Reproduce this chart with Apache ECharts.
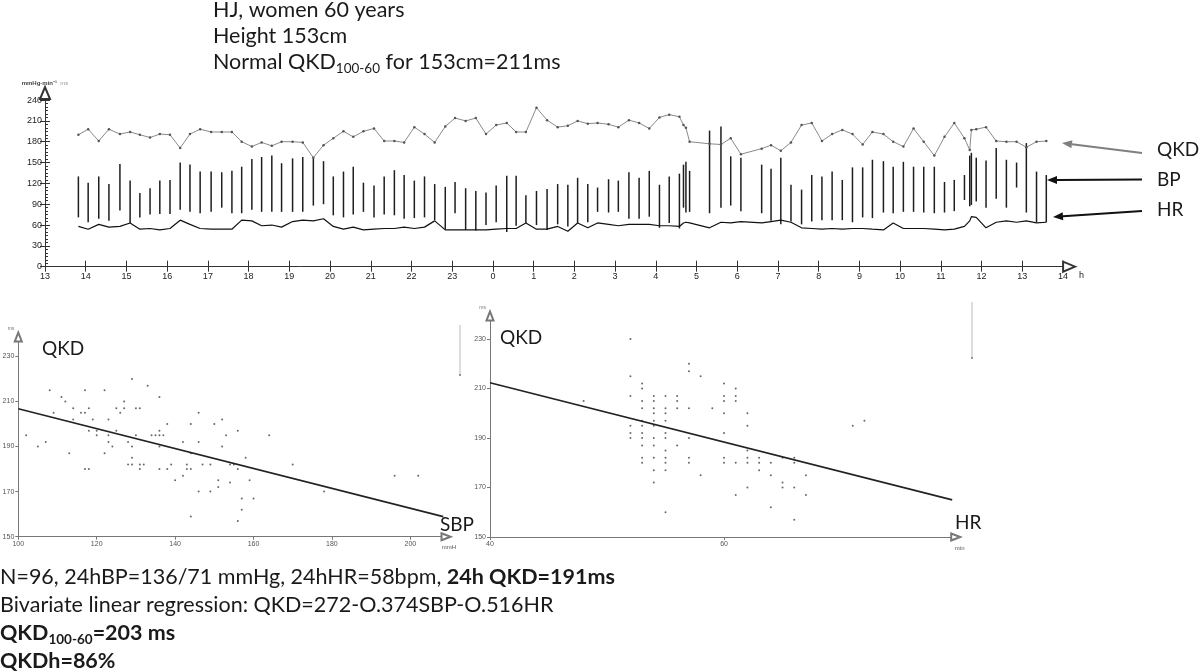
<!DOCTYPE html>
<html><head><meta charset="utf-8">
<script src="https://cdn.jsdelivr.net/npm/echarts@6/dist/echarts.min.js"></script>
<style>html,body{margin:0;padding:0;background:#fff}#c{width:1200px;height:672px}</style>
</head><body><div id="c"></div>
<script>
// ---------- Top panel: 24h recording ----------
const hourTicks = [13,14,15,16,17,18,19,20,21,22,23,24,25,26,27,28,29,30,31,32,33,34,35,36,37,38];
const hourLabels = ['13','14','15','16','17','18','19','20','21','22','23','0','1','2','3','4','5','6','7','8','9','10','11','12','13','14'];
const topYTicks = [0,30,60,90,120,150,180,210,240];

const bpTime = [13.82,14.06,14.32,14.57,14.84,15.09,15.33,15.58,15.82,16.07,16.32,16.56,16.81,17.08,17.34,17.59,17.83,18.08,18.32,18.57,18.81,19.08,19.33,19.59,19.84,20.08,20.33,20.57,20.82,21.08,21.33,21.58,21.82,
 22.07,22.32,22.57,22.83,23.07,23.33,23.58,23.83,24.08,24.34,24.57,24.81,25.07,25.33,25.59,25.84,26.08,26.33,26.57,26.84,27.08,27.34,27.59,27.84,28.09,28.33,28.58,28.68,28.74,28.83,29.32,29.60,29.84,30.09,
 30.60,30.83,31.07,31.32,31.58,31.83,32.08,32.33,32.58,32.83,33.08,33.32,33.59,33.83,34.08,34.33,34.58,34.84,35.09,35.33,35.58,35.71,35.75,35.87,36.11,36.36,36.61,36.86,37.10,37.35,37.59];
const bpSys = [130,121,130,119,148,124,106,113,124,125,150,147,137,137,136,138,144,155,158,160,149,156,158,156,152,130,137,144,121,117,130,139,132,
 124,130,119,115,122,113,109,107,117,131,131,103,109,112,119,118,128,119,114,126,124,136,128,138,118,130,134,147,151,138,196,202,159,157,
 147,141,157,118,111,132,130,137,125,143,143,154,152,144,151,144,144,144,122,125,132,160,164,157,153,171,154,150,178,137,132];
const bpDia = [71,64,69,66,81,63,71,75,76,76,82,79,77,79,85,77,77,82,79,79,79,79,79,88,90,74,71,75,79,71,75,74,69,
 70,71,67,54,77,53,52,60,64,50,59,63,60,53,61,58,63,64,79,78,79,69,69,72,56,63,55,85,78,79,77,85,88,80,
 77,66,61,65,61,65,67,67,67,64,71,70,78,77,79,79,78,77,78,80,96,87,89,94,85,98,85,114,78,64,64];
const hrVals = [58,54,61,57,58,63,54,55,53,55,67,61,55,54,54,54,67,66,59,60,57,65,67,66,69,58,54,57,53,54,55,55,57,
 55,57,66,53,53,53,53,53,54,55,55,63,54,54,58,51,63,56,63,61,59,61,61,61,59,59,58,63,64,63,56,64,63,65,
 63,65,67,64,56,55,54,55,54,55,55,54,53,63,55,55,55,54,53,54,58,66,72,71,56,64,66,64,66,63,64];
const qkdVals = [190,198,181,198,191,194,190,186,191,190,171,191,198,194,194,194,180,173,179,174,180,180,179,157,175,185,195,187,195,199,181,181,179,
 201,191,179,202,214,210,214,191,204,207,194,194,229,211,201,203,210,206,207,205,201,211,207,199,215,219,216,204,200,180,177,176,185,162,
 170,175,167,179,204,207,181,191,197,191,176,194,191,180,173,199,180,160,187,207,185,168,197,198,201,181,180,180,172,180,181];

// ---------- Bottom left: QKD vs SBP ----------
const sbpX = [102,105,107,108,109,111,112,113,114,114,116,117,117,117,118,118,118,119,120,120,122,122,123,123,123,124,125,125,126,127,
 127,128,128,129,129,129,129,130,130,131,131,131,132,133,134,135,136,136,136,136,136,137,138,138,139,140,142,142,143,143,
 144,144,144,144,146,146,146,147,149,149,150,151,151,152,152,153,154,154,155,156,156,156,157,157,158,159,160,164,170,178,196,202];
const qkdSbpY = [195,190,192,215,205,212,210,187,207,202,205,215,205,180,207,197,180,202,197,195,215,187,202,195,192,190,207,197,205,210,
 207,192,182,220,190,185,182,207,195,207,182,180,182,217,195,195,212,197,195,190,180,195,200,180,182,175,192,177,182,180,
 200,187,180,159,205,192,170,182,182,170,200,175,172,202,190,195,174,182,182,197,180,157,167,162,185,175,167,195,182,170,177,177];
const sbpTicks = [100,120,140,160,180,200];
const qkdTicks = [150,170,190,210,230];
const regSbpX = [100, 208.4];
const regSbpY = [206.8, 158.9];

// ---------- Bottom right: QKD vs HR ----------
const hrX = [48,52,52,52,52,52,52,53,53,53,53,53,53,53,53,53,53,53,54,54,54,54,54,54,54,54,54,54,54,55,55,55,55,55,55,55,55,55,55,55,
 56,56,56,56,57,57,57,57,57,57,58,58,59,60,60,60,60,60,60,60,61,61,61,61,61,62,62,62,62,62,62,63,63,63,64,64,64,65,65,65,66,66,66,66,67,67,71,72];
const qkdHrY = [205,230,215,207,195,192,190,212,210,205,202,197,195,192,190,187,182,180,207,205,202,200,197,195,190,187,182,177,172,
 207,202,200,197,192,190,185,182,180,177,160,207,205,202,187,220,217,202,190,182,180,215,175,202,212,207,205,200,192,182,180,
 210,207,205,180,167,200,195,185,182,180,170,182,180,177,180,175,162,182,172,170,182,180,170,157,175,167,195,197];
const hrTicks = [40,60];
const regHrX = [40, 79.5];
const regHrY = [212.3, 165];

// ---------- helpers ----------
const TXT = '#1a1a1a';
const LBL = 'Liberation Sans';
const BODY = 'Lato';
function zip(a, b) { return a.map((v, i) => [v, b[i]]); }

function arrow(x1, y1, x2, y2, color) {
  const ang = Math.atan2(y2 - y1, x2 - x1);
  const L = 10, W = 4;
  const bx = x2 - L * Math.cos(ang), by = y2 - L * Math.sin(ang);
  const px = -Math.sin(ang) * W, py = Math.cos(ang) * W;
  return [
    { type: 'line', shape: { x1: x1, y1: y1, x2: bx, y2: by }, style: { stroke: color, lineWidth: 2 } },
    { type: 'polygon', shape: { points: [[x2, y2], [bx + px, by + py], [bx - px, by - py]] }, style: { fill: color } }
  ];
}
function txt(x, y, text, size, rich, extra) {
  return {
    type: 'text', x: x, y: y,
    style: Object.assign({ text: text, fill: TXT, fontFamily: BODY, fontSize: size, verticalAlign: 'middle', align: 'left', rich: rich || undefined }, extra || {})
  };
}
const BIG = 21.5;
const subRich = {
  n: { fontFamily: BODY, fontSize: BIG, lineHeight: 28, fill: TXT },
  s: { fontFamily: BODY, fontSize: 13.5, lineHeight: 13, verticalAlign: 'bottom', fill: TXT },
  b: { fontFamily: BODY, fontSize: BIG, lineHeight: 28, fontWeight: 'bold', fill: TXT },
  bs: { fontFamily: BODY, fontSize: 13.5, lineHeight: 13, verticalAlign: 'bottom', fontWeight: 'bold', fill: TXT }
};

const scatterAxisLabel = { fontFamily: LBL, fontSize: 7, color: '#555', margin: 4 };

const chart = echarts.init(document.getElementById('c'), null, { renderer: 'canvas' });
chart.setOption({
  backgroundColor: '#fff',
  animation: false,
  grid: [
    { left: 45, top: 93.1, width: 1024.1, height: 173.6, outerBoundsMode: 'none' },
    { left: 18.3, top: 337, width: 427.7, height: 199.7, outerBoundsMode: 'none' },
    { left: 490, top: 316, width: 465.7, height: 221, outerBoundsMode: 'none' }
  ],
  xAxis: [
    { gridIndex: 0, type: 'value', min: 13, max: 38.15, position: 'bottom',
      axisLine: { onZero: false, symbol: ['none', 'emptyTriangle'], symbolSize: [10, 12], lineStyle: { color: '#333', width: 1 } },
      axisTick: { customValues: hourTicks, length: 5, lineStyle: { color: '#333' } },
      axisLabel: { customValues: hourTicks, formatter: v => hourLabels[hourTicks.indexOf(Math.round(v))], fontFamily: LBL, fontSize: 9, color: '#222', margin: 5 },
      splitLine: { show: false },
      name: 'h', nameLocation: 'end', nameGap: 10, nameTextStyle: { fontFamily: LBL, fontSize: 9, color: '#222', verticalAlign: 'top', padding: [4, 0, 0, 0] } },
    { gridIndex: 0, type: 'value', min: 13, max: 38.15, position: 'bottom', offset: 0,
      axisLine: { show: false }, axisLabel: { show: false }, splitLine: { show: false },
      axisTick: { customValues: hourTicks, inside: true, length: 6, lineStyle: { color: '#333' } } },
    { gridIndex: 1, type: 'value', min: 100, max: 209.1,
      axisLine: { onZero: false, symbol: ['none', 'emptyTriangle'], symbolSize: [7, 9], lineStyle: { color: '#777', width: 1 } },
      axisTick: { customValues: sbpTicks, length: 3, lineStyle: { color: '#777' } },
      axisLabel: Object.assign({ customValues: sbpTicks }, scatterAxisLabel),
      splitLine: { show: false },
      name: 'mmH', nameLocation: 'end', nameGap: 3, nameTextStyle: { fontFamily: LBL, fontSize: 6, color: '#555', align: 'center', verticalAlign: 'top', padding: [8, 0, 0, 0] } },
    { gridIndex: 2, type: 'value', min: 40, max: 79.8,
      axisLine: { onZero: false, symbol: ['none', 'emptyTriangle'], symbolSize: [7, 9], lineStyle: { color: '#777', width: 1 } },
      axisTick: { customValues: hrTicks, length: 3, lineStyle: { color: '#777' } },
      axisLabel: Object.assign({ customValues: hrTicks }, scatterAxisLabel),
      splitLine: { show: false },
      name: 'min', nameLocation: 'end', nameGap: 4, nameTextStyle: { fontFamily: LBL, fontSize: 6, color: '#555', align: 'center', verticalAlign: 'top', padding: [8, 0, 0, 0] } }
  ],
  yAxis: [
    { gridIndex: 0, type: 'value', min: 0, max: 250, position: 'left',
      axisLine: { onZero: false, symbol: ['none', 'emptyTriangle'], symbolSize: [10, 12], lineStyle: { color: '#333', width: 1 } },
      axisTick: { customValues: topYTicks, length: 5, lineStyle: { color: '#333' } },
      axisLabel: { customValues: topYTicks, fontFamily: LBL, fontSize: 9, color: '#222', margin: 3 },
      splitLine: { show: false },
      name: '{a|mmHg·min⁻¹} {b|ms}', nameLocation: 'end', nameGap: 4,
      nameTextStyle: { align: 'center', rich: { a: { fontFamily: LBL, fontSize: 6, fontWeight: 'bold', color: '#444' }, b: { fontFamily: LBL, fontSize: 6, color: '#999' } } } },
    { gridIndex: 0, type: 'value', min: 0, max: 250, position: 'left', offset: 0,
      axisLine: { show: false }, axisLabel: { show: false }, splitLine: { show: false },
      axisTick: { customValues: [0,5,10,15,20,25,30,35,40,45,50,55,60,65,70,75,80,85,90,95,100,105,110,115,120,125,130,135,140,145,150,155,160,165,170,175,180,185,190,195,200,205,210,215,220,225,230,235,240,245], inside: true, length: 3, lineStyle: { color: '#333' } } },
    { gridIndex: 0, type: 'value', min: 0, max: 250, position: 'left', offset: 0,
      axisLine: { show: false }, axisLabel: { show: false }, splitLine: { show: false },
      axisTick: { customValues: topYTicks, inside: true, length: 5, lineStyle: { color: '#333' } } },
    { gridIndex: 1, type: 'value', min: 150, max: 238.6,
      axisLine: { onZero: false, symbol: ['none', 'emptyTriangle'], symbolSize: [7, 9], lineStyle: { color: '#777', width: 1 } },
      axisTick: { customValues: qkdTicks, length: 3, lineStyle: { color: '#777' } },
      axisLabel: Object.assign({ customValues: qkdTicks }, scatterAxisLabel),
      splitLine: { show: false },
      name: 'ms', nameLocation: 'end', nameGap: 6, nameTextStyle: { fontFamily: LBL, fontSize: 5, color: '#777', align: 'right', padding: [0, 4, 0, 0] } },
    { gridIndex: 2, type: 'value', min: 150, max: 239.3,
      axisLine: { onZero: false, symbol: ['none', 'emptyTriangle'], symbolSize: [7, 9], lineStyle: { color: '#777', width: 1 } },
      axisTick: { customValues: qkdTicks, length: 3, lineStyle: { color: '#777' } },
      axisLabel: Object.assign({ customValues: qkdTicks }, scatterAxisLabel),
      splitLine: { show: false },
      name: 'ms', nameLocation: 'end', nameGap: 6, nameTextStyle: { fontFamily: LBL, fontSize: 5, color: '#777', align: 'right', padding: [0, 4, 0, 0] } }
  ],
  series: [
    { type: 'custom', name: 'BP', xAxisIndex: 0, yAxisIndex: 0,
      data: bpTime.map((t, i) => [t, bpDia[i], bpSys[i]]),
      encode: { x: 0, y: [1, 2] },
      renderItem: function (params, api) {
        const p1 = api.coord([api.value(0), api.value(1)]);
        const p2 = api.coord([api.value(0), api.value(2)]);
        return { type: 'line', shape: { x1: p1[0], y1: p1[1], x2: p2[0], y2: p2[1] }, style: { stroke: '#1e1e1e', lineWidth: 1.5 } };
      } },
    { type: 'line', name: 'HR', xAxisIndex: 0, yAxisIndex: 0, data: zip(bpTime, hrVals),
      showSymbol: false, lineStyle: { color: '#111', width: 1.2 } },
    { type: 'line', name: 'QKD', xAxisIndex: 0, yAxisIndex: 0, data: zip(bpTime, qkdVals),
      symbol: 'circle', symbolSize: 2.5, itemStyle: { color: '#555' }, lineStyle: { color: '#8a8a8a', width: 1 } },
    { type: 'scatter', xAxisIndex: 2, yAxisIndex: 3, data: zip(sbpX, qkdSbpY), symbolSize: 2, itemStyle: { color: '#444' } },
    { type: 'line', xAxisIndex: 2, yAxisIndex: 3, data: zip(regSbpX, regSbpY), showSymbol: false, lineStyle: { color: '#222', width: 1.6 } },
    { type: 'scatter', xAxisIndex: 3, yAxisIndex: 4, data: zip(hrX, qkdHrY), symbolSize: 2, itemStyle: { color: '#444' } },
    { type: 'line', xAxisIndex: 3, yAxisIndex: 4, data: zip(regHrX, regHrY), showSymbol: false, lineStyle: { color: '#222', width: 1.6 } }
  ],
  graphic: [].concat(
    [
      txt(213, 10, 'HJ, women 60 years', BIG),
      txt(213, 36, 'Height 153cm', BIG),
      txt(213, 62, '{n|Normal QKD}{s|100-60}{n| for 153cm=211ms}', BIG, subRich),
      txt(1157, 150, 'QKD', 19),
      txt(1157, 180, 'BP', 19),
      txt(1157, 210, 'HR', 19),
      txt(42, 349, 'QKD', 19),
      txt(440, 525, 'SBP', 19),
      txt(500, 338, 'QKD', 19),
      txt(955, 523, 'HR', 19),
      txt(0, 577, '{n|N=96, 24hBP=136/71 mmHg, 24hHR=58bpm, }{b|24h QKD=191ms}', BIG, subRich),
      txt(0, 605, 'Bivariate linear regression: QKD=272-O.374SBP-O.516HR', BIG),
      txt(0, 633, '{b|QKD}{bs|100-60}{b|=203 ms}', BIG, subRich),
      txt(0, 661, 'QKDh=86%', BIG, null, { fontWeight: 'bold' }),
      { type: 'line', shape: { x1: 460, y1: 325, x2: 460, y2: 375 }, style: { stroke: '#bbb', lineWidth: 1 } },
      { type: 'circle', shape: { cx: 460, cy: 375, r: 1 }, style: { fill: '#777' } },
      { type: 'line', shape: { x1: 972, y1: 302, x2: 972, y2: 358 }, style: { stroke: '#bbb', lineWidth: 1 } },
      { type: 'circle', shape: { cx: 972, cy: 358, r: 1 }, style: { fill: '#777' } }
    ],
    arrow(1142, 153, 1062, 143, '#7f7f7f'),
    arrow(1142, 179.5, 1047, 180, '#111'),
    arrow(1142, 211, 1053, 217, '#111')
  )
});
</script></body></html>
